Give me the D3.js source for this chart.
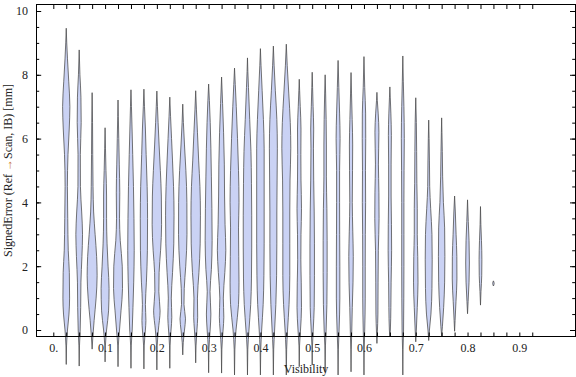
<!DOCTYPE html>
<html lang="en">
<head>
<meta charset="utf-8">
<title>Signed error vs visibility</title>
<style>
  body { margin: 0; background: #fff; }
  svg { display: block; font-family: "Liberation Serif", "Times New Roman", serif; }
  .violin { fill: #cad2f4; stroke: #4a4a4a; stroke-opacity: 0.85; stroke-width: 0.9; }
  .frame { fill: none; stroke: #000; stroke-width: 1; }
  .tick line { stroke: #000; }
</style>
</head>
<body>
<svg width="576" height="377"></svg>
<script src="https://cdn.jsdelivr.net/npm/d3@7"></script>
<script>
// visibility bins, one violin per bin
const visibility = [0.025, 0.05, 0.075, 0.1, 0.125, 0.15, 0.175, 0.2, 0.225, 0.25, 0.275,
  0.3, 0.325, 0.35, 0.375, 0.4, 0.425, 0.45, 0.475, 0.5, 0.525, 0.55,
  0.575, 0.6, 0.625, 0.65, 0.675, 0.7, 0.725, 0.75, 0.775, 0.8, 0.825, 0.85];

// lowest / highest signed error of each bin [mm]
const lowTips = [-1.08, -1.13, -0.6, -1.0, -1.15, -1.2, -1.22, -1.25, -1.2, -0.78, -1.03,
  -1.34, -1.35, -1.41, -1.41, -1.41, -1.41, -1.41, -1.15, -1.1, -1.3, -1.41,
  -1.31, -1.41, -0.42, -0.21, -1.41, -0.37, -0.33, -0.19, -0.04, 0.51, 0.78, 1.38];
const highTips = [9.46, 8.78, 7.44, 6.34, 7.21, 7.53, 7.55, 7.49, 7.30, 7.08, 7.50,
  7.71, 7.93, 8.21, 8.53, 8.82, 8.90, 8.96, 7.86, 8.08, 8.00, 8.45,
  8.07, 8.57, 7.45, 7.62, 8.59, 7.28, 6.58, 6.65, 4.20, 4.08, 3.87, 1.54];

// density profile of each bin: [signed error, density]
const profiles = [
  [[-0.5,0.6],[0,2.5],[0.5,5.5],[1,6.7],[1.8,6.2],[2.5,4],[3.5,3],[4.5,2.3],[5.5,3.5],[6.3,6],[7,7.3],[7.8,5],[8.5,2.5],[9,1]],
  [[-0.5,0.6],[0,2],[0.7,3],[1.5,3.5],[2.3,5.5],[3,6.7],[3.7,5],[4.5,2.5],[5.5,2.3],[6.5,4],[7.3,3.5],[8,1.5]],
  [[-0.2,1.5],[0.3,4],[1,8],[1.7,10],[2.3,9],[3,6],[3.7,3],[4.5,1.8],[5.5,1.2],[6.5,0.8]],
  [[-0.5,0.6],[0,3],[0.6,7],[1.3,8],[2,6],[2.7,4],[3.5,3],[4.2,3],[5,1.8],[5.7,0.8]],
  [[-0.5,0.6],[0,3],[0.6,6],[1.3,9],[2,8.5],[2.8,4.5],[3.5,3],[4.3,3.5],[5.2,2.5],[6,1.5],[6.7,0.6]],
  [[-0.5,0.6],[0,2.5],[0.7,4],[1.5,5.5],[2.5,6.5],[3.5,6],[4.5,5],[5.5,3.5],[6.3,2.2],[7,1]],
  [[-0.5,0.6],[0,3],[0.3,4],[0.8,3],[1.5,5],[2.5,7],[3.5,7.3],[4.5,6.5],[5.5,4.5],[6.3,3],[7,1.2]],
  [[-0.5,0.7],[0,3],[0.6,6.5],[1.2,4],[1.8,4.5],[2.5,7.5],[3.3,9.5],[4.2,9],[5,7],[5.8,4.5],[6.5,2.5],[7,1.2]],
  [[-0.5,0.6],[0,2.5],[0.4,4],[1,3],[1.8,5.5],[2.7,8],[3.6,8.5],[4.5,7.5],[5.3,5.5],[6,3.5],[6.7,1.5]],
  [[-0.4,1],[0,3.5],[0.35,5.5],[0.8,2.5],[1.3,3],[2,6],[3,8.5],[4,8.3],[5,6.3],[5.8,3.5],[6.5,1.3]],
  [[-0.5,0.7],[0,2.5],[0.4,4],[1,3.5],[1.8,6.5],[2.7,9],[3.6,9.5],[4.5,8.5],[5.3,6],[6.2,3.5],[6.9,1.5]],
  [[-0.6,0.6],[0,3],[0.5,4.5],[1.2,2.8],[1.9,5.5],[2.8,7],[3.8,6.5],[4.8,5.5],[5.7,4.5],[6.5,3.2],[7.2,1.5]],
  [[-0.6,0.6],[0,3],[0.4,4.5],[1,3.5],[1.8,6.5],[2.5,8.5],[3.3,7],[4.2,6],[5.2,5.5],[6.2,4],[7.1,2]],
  [[-0.6,0.7],[0,3],[0.8,8],[1.5,9],[2.3,8.5],[3.2,8],[4,9],[5,8],[6,6],[7,3.5],[7.7,1.5]],
  [[-0.6,0.7],[0,3],[0.8,6.5],[1.6,8],[2.6,8.5],[3.6,8.5],[4.6,8],[5.6,7],[6.6,4.5],[7.6,2],[8.1,0.8]],
  [[-0.6,0.7],[0,2.5],[0.8,5.5],[1.7,7],[2.7,7.5],[3.7,7.5],[4.7,7.5],[5.7,7.5],[6.6,6],[7.5,3.5],[8.3,1.2]],
  [[-0.6,0.7],[0,2.5],[0.8,5],[1.7,6.5],[2.7,7],[3.7,7],[4.7,7.5],[5.7,8],[6.6,7],[7.5,4],[8.3,1.5]],
  [[-0.6,0.7],[0,2.5],[0.8,5.5],[1.7,7],[2.7,7],[3.7,7],[4.7,7.5],[5.7,9],[6.5,8],[7.4,5],[8.3,1.8]],
  [[-0.5,0.6],[0,2.5],[0.7,4.5],[1.5,4],[2.2,3.2],[3,3.5],[3.8,4.5],[4.7,3.5],[5.5,3.2],[6.3,3.5],[7,2],[7.5,0.8]],
  [[-0.5,0.6],[0,2],[0.7,4],[1.7,4.5],[2.7,4.5],[3.7,4],[4.7,3],[5.7,2.5],[6.3,3],[7,1.8],[7.6,0.8]],
  [[-0.5,0.6],[0,2],[0.8,3.5],[1.8,4],[2.8,4],[3.8,3.5],[4.8,2.5],[5.8,2.5],[6.6,2],[7.4,1]],
  [[-0.6,0.6],[0,2],[1,3.5],[2,3.5],[3,3.2],[4,3],[5,3],[6,4],[6.8,3],[7.6,1.5]],
  [[-0.6,0.5],[0,1.5],[0.7,2.5],[1.5,4],[2.3,4.5],[3.1,3.5],[4,2.5],[5,3],[5.8,3.3],[6.6,2.3],[7.4,1]],
  [[-0.6,0.5],[0,1.5],[1,2.5],[2,2.5],[3,2.7],[4,3.3],[5,3],[6,3.5],[6.8,3.3],[7.6,1.5]],
  [[-0.1,0.8],[0.5,2],[1.5,2.3],[2.5,2.8],[3.5,4.3],[4.3,4],[5.2,3],[6.2,4],[6.8,2.5],[7.2,0.8]],
  [[0,1],[0.7,2],[1.5,2.5],[2.5,3.5],[3.3,3.2],[4.2,2.5],[5.2,2.5],[6.1,3],[6.8,2],[7.3,0.8]],
  [[-0.6,0.5],[0,1.5],[1,2],[2,2.2],[3,2.2],[4,2.2],[5,2.5],[6,3],[7,2.2],[7.8,1]],
  [[0,1.2],[0.7,3],[1.5,4.5],[2.3,4],[3,3],[3.8,3],[4.6,2.2],[5.6,1.8],[6.5,1.2]],
  [[0,1.5],[0.5,4.5],[1.3,6.5],[2.2,7],[3,6.5],[3.8,4],[4.5,2],[5.3,1.5],[6,0.8]],
  [[0.1,1.5],[0.7,4],[1.5,6],[2.3,6.5],[3.2,6],[4,3.5],[4.8,2],[5.6,1.3],[6.2,0.6]],
  [[0.3,1],[0.9,2.8],[1.6,4.7],[2.3,4.5],[3,3],[3.7,1.5]],
  [[0.9,1.2],[1.5,3],[2.1,3.7],[2.8,3],[3.4,1.5]],
  [[1.2,1],[1.7,2.5],[2.2,2.8],[2.8,2],[3.3,0.8]],
  [[1.46,1.5]]
];

// axis ticks
const xTickValues = [0, 0.1, 0.2, 0.3, 0.4, 0.5, 0.6, 0.7, 0.8, 0.9];
const xTickLabels = ["0.", "0.1", "0.2", "0.3", "0.4", "0.5", "0.6", "0.7", "0.8", "0.9"];
const yTickValues = [0, 2, 4, 6, 8, 10];

const svg = d3.select("svg");
const frame = {left: 36.5, right: 575.5, top: 4.5, bottom: 336.5};

const x = d3.scaleLinear().domain([0, 1]).range([53.3, 571.1]);
const y = d3.scaleLinear().domain([0, 10]).range([330, 11]);
const slot = x(0.025) - x(0);
const w = d3.scaleLinear().domain([0, 13]).range([0, slot / 2]);

// violins
const violins = visibility.map((v, i) => ({
  pos: v,
  pts: [[lowTips[i], 0], ...profiles[i], [highTips[i], 0]]
}));

const area = d3.area()
  .curve(d3.curveMonotoneY)
  .y(d => y(d[0]));

svg.append("g")
  .selectAll("path")
  .data(violins)
  .join("path")
  .attr("class", "violin")
  .attr("d", d => area
    .x0(p => x(d.pos) - w(p[1]))
    .x1(p => x(d.pos) + w(p[1]))(d.pts));

// frame
svg.append("rect")
  .attr("class", "frame")
  .attr("x", frame.left)
  .attr("y", frame.top)
  .attr("width", frame.right - frame.left)
  .attr("height", frame.bottom - frame.top);

const minorX = d3.range(0, 0.93, 0.025);
const minorY = d3.range(0, 10.01, 0.5);

function ticks(axis, tx, ty) {
  const g = svg.append("g")
    .attr("transform", `translate(${tx},${ty})`)
    .call(axis);
  g.select(".domain").remove();
  g.selectAll("text")
    .attr("font-family", "Liberation Serif, Times New Roman, serif")
    .attr("font-size", 12)
    .attr("fill", "#222");
  return g;
}

// bottom / top
ticks(d3.axisBottom(x).tickValues(minorX).tickSize(-4).tickFormat(""), 0, frame.bottom);
ticks(d3.axisBottom(x).tickValues(xTickValues).tickSize(0).tickPadding(7)
  .tickFormat((d, i) => xTickLabels[i]), 0, frame.bottom);
ticks(d3.axisTop(x).tickValues(minorX).tickSize(-4.5).tickFormat(""), 0, frame.top);

// left / right
ticks(d3.axisLeft(y).tickValues(minorY).tickSize(-2.7).tickFormat(""), frame.left, 0);
ticks(d3.axisLeft(y).tickValues(yTickValues).tickSize(-4.7).tickPadding(8.5), frame.left, 0);
ticks(d3.axisRight(y).tickValues(minorY).tickSize(-3.3).tickFormat(""), frame.right, 0);
ticks(d3.axisRight(y).tickValues(yTickValues).tickSize(-5.5).tickFormat(""), frame.right, 0);

// axis titles
svg.append("text")
  .attr("x", (frame.left + frame.right) / 2)
  .attr("y", 373)
  .attr("text-anchor", "middle")
  .attr("font-size", 12)
  .attr("fill", "#222")
  .text("Visibility");

const yTitle = svg.append("text")
  .attr("transform", `translate(12,${(frame.top + frame.bottom) / 2}) rotate(-90)`)
  .attr("text-anchor", "middle")
  .attr("font-size", 12)
  .attr("fill", "#222");
yTitle.append("tspan").text("SignedError (Ref ");
yTitle.append("tspan").attr("fill", "#c8742a").text("→");
yTitle.append("tspan").text("Scan, IB) [mm]");
</script>
</body>
</html>
